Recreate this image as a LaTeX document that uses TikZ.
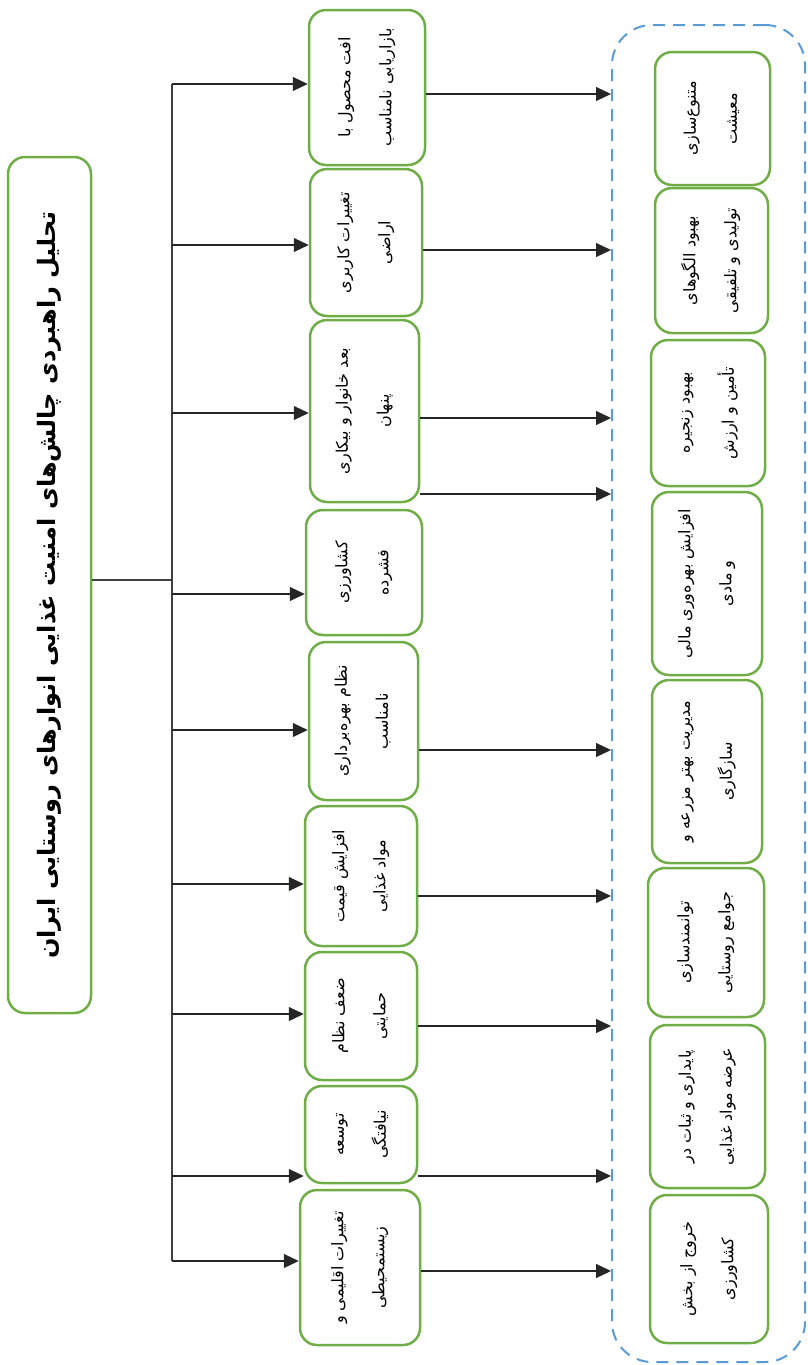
\documentclass[tikz,border=0pt]{standalone}
\usepackage{fontspec}
\usetikzlibrary{arrows.meta}
\newfontfamily\fa[Script=Arabic]{DejaVu Sans}
\TeXXeTstate=1
\definecolor{gr}{HTML}{70AD47}
\definecolor{bl}{HTML}{5B9BD5}
\newcommand\twol[2]{\rotatebox{90}{\begin{tabular}{@{}c@{}}#1\\[22pt]#2\end{tabular}}}
\newcommand\gbox[7]{\node[cbox,minimum width={#3-#2},minimum height={#5-#4}] (#1) at ({(#2+#3)/2},{(#4+#5)/2}) {\twol{#6}{#7}};}
\tikzset{
  cbox/.style={draw=gr, line width=2.5pt, rounded corners=17pt, inner sep=0pt, font=\fa\fontsize{16}{19}\selectfont},
  arr/.style={-{Triangle[length=15pt,width=14pt]}, line width=1.1pt, draw=black!85},
  ln/.style={line width=1.1pt, draw=black!75}
}
\begin{document}
\begin{tikzpicture}[x=1pt,y=-1pt]
\useasboundingbox (0,0) rectangle (807,1365);
% title
\node[cbox, minimum width=83, minimum height=856, font=\fa\bfseries\fontsize{24}{28}\selectfont] (title) at (49.5,585)
  {\rotatebox{90}{\beginR تحلیل راهبردی چالش‌های امنیت غذایی انوارهای روستایی ایران\endR}};
% middle boxes
\gbox{m1}{309}{425}{10}{165}{\beginR افت محصول با\endR}{\beginR بازاریابی نامناسب\endR}
\gbox{m2}{310}{422}{169}{316}{\beginR تغییرات کاربری\endR}{\beginR اراضی\endR}
\gbox{m3}{310}{419}{320}{502}{\beginR بعد خانوار و بیکاری\endR}{\beginR پنهان\endR}
\gbox{m4}{306}{422}{510}{635}{\beginR کشاورزی\endR}{\beginR فشرده\endR}
\gbox{m5}{309}{418}{642}{800}{\beginR نظام بهره‌برداری\endR}{\beginR نامناسب\endR}
\gbox{m6}{305}{417}{806}{946}{\beginR افزایش قیمت\endR}{\beginR مواد غذایی\endR}
\gbox{m7}{305}{417}{952}{1080}{\beginR ضعف نظام\endR}{\beginR حمایتی\endR}
\gbox{m8}{305}{417}{1086}{1183}{\beginR توسعه\endR}{\beginR نیافتگی\endR}
\gbox{m9}{300}{420}{1190}{1345}{\beginR تغییرات اقلیمی و\endR}{\beginR زیستمحیطی\endR}
% group container
\node[draw=bl, dash pattern=on 12pt off 8pt, line width=2pt, rounded corners=40pt, minimum width=193, minimum height=1337, inner sep=0pt] (grp) at (708.5,693.5) {};
% right boxes
\gbox{r1}{655}{770}{52}{185}{\beginR متنوع‌سازی\endR}{\beginR معیشت\endR}
\gbox{r2}{655}{768}{188}{333}{\beginR بهبود الگوهای\endR}{\beginR تولیدی و تلفیقی\endR}
\gbox{r3}{651}{765}{340}{486}{\beginR بهبود زنجیره\endR}{\beginR تأمین و ارزش\endR}
\gbox{r4}{652}{762}{492}{675}{\beginR افزایش بهره‌وری مالی\endR}{\beginR و مادی\endR}
\gbox{r5}{652}{762}{680}{863}{\beginR مدیریت بهتر مزرعه و\endR}{\beginR سازگاری\endR}
\gbox{r6}{648}{764}{868}{1017}{\beginR توانمندسازی\endR}{\beginR جوامع روستایی\endR}
\gbox{r7}{650}{765}{1025}{1188}{\beginR پایداری و ثبات در\endR}{\beginR عرضه مواد غذایی\endR}
\gbox{r8}{650}{768}{1195}{1343}{\beginR خروج از بخش\endR}{\beginR کشاورزی\endR}
% trunk
\coordinate (tj) at (172,580);
\coordinate (ttop) at (172,84);
\coordinate (tbot) at (172,1261);
\draw[ln] (title.east |- tj) -- (tj);
\draw[ln] (ttop) -- (tbot);
\foreach \n/\yy in {m1/84, m2/245, m3/413, m4/594, m5/730, m6/884, m7/1014, m8/1176, m9/1261}{
  \draw[arr] (172,\yy) -- (\n.west |- 0,\yy);
}
% right arrows
\foreach \n/\yy in {m1/94, m2/250, m3/418, m3/494, m5/750, m6/896, m7/1026, m8/1176, m9/1271}{
  \draw[arr] (\n.east |- 0,\yy) -- (grp.west |- 0,\yy);
}
\end{tikzpicture}
\end{document}
